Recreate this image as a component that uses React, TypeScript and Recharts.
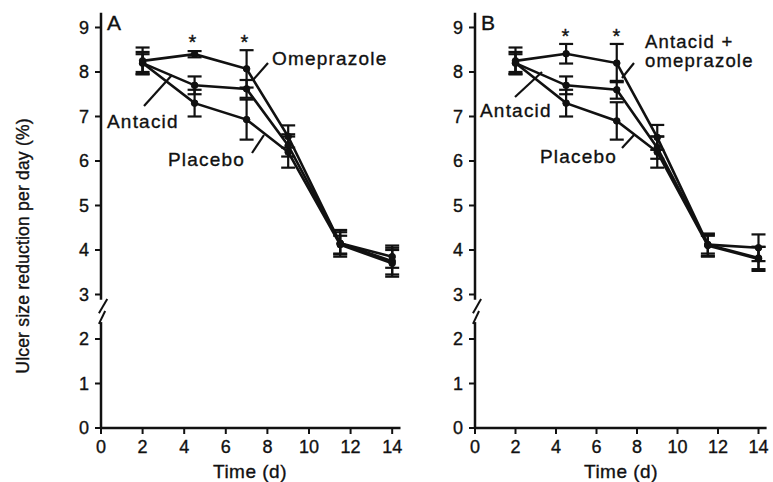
import React from "react";
import { LineChart, Line, XAxis, YAxis, ErrorBar, ReferenceLine } from "recharts";

// time points (days)
const days = [2, 4.5, 7, 9, 11.5, 14];
const xTicks = [0, 2, 4, 6, 8, 10, 12, 14];
const yTicks = [0, 1, 2, 3, 4, 5, 6, 7, 8, 9];

// panel A
const omeprazoleA = [8.25, 8.4, 8.07, 6.55, 4.15, 3.85];
const omeprazoleAErr = [0.3, 0.07, 0.42, 0.25, 0.3, 0.25];
const antacidA = [8.2, 7.7, 7.62, 6.35, 4.15, 3.75];
const antacidAErr = [0.25, 0.2, 0.2, 0.25, 0.25, 0.3];
const placeboA = [8.2, 7.3, 6.93, 6.2, 4.12, 3.7];
const placeboAErr = [0.2, 0.3, 0.45, 0.35, 0.2, 0.3];

// panel B
const comboB = [8.25, 8.41, 8.2, 6.53, 4.12, 4.05];
const comboBErr = [0.3, 0.22, 0.43, 0.28, 0.25, 0.3];
const antacidB = [8.2, 7.7, 7.6, 6.3, 4.12, 3.82];
const antacidBErr = [0.25, 0.2, 0.2, 0.25, 0.2, 0.25];
const placeboB = [8.2, 7.3, 6.9, 6.2, 4.1, 3.8];
const placeboBErr = [0.2, 0.3, 0.42, 0.35, 0.25, 0.27];

const FONT = "'Liberation Sans', Arial, sans-serif";
const INK = "#111";

function rows(a: number[], aErr: number[], b: number[], bErr: number[], c: number[], cErr: number[]) {
  return days.map((d, i) => ({
    day: d,
    s1: a[i],
    s1Err: aErr[i],
    s2: b[i],
    s2Err: bErr[i],
    s3: c[i],
    s3Err: cErr[i],
  }));
}

const dataA = rows(omeprazoleA, omeprazoleAErr, antacidA, antacidAErr, placeboA, placeboAErr);
const dataB = rows(comboB, comboBErr, antacidB, antacidBErr, placeboB, placeboBErr);

interface PanelProps {
  data: ReturnType<typeof rows>;
  width: number;
  yAxisWidth: number;
  right: number;
}

function Panel({ data, width, yAxisWidth, right }: PanelProps) {
  const tick = { fontSize: 18, fill: INK, fontFamily: FONT, stroke: INK, strokeWidth: 0.35 };
  const seg = { stroke: INK, strokeWidth: 2.5, ifOverflow: "visible" as const };
  return (
    <LineChart width={width} height={482} data={data} margin={{ top: 12.8, right, bottom: 0, left: 0 }}>
      <XAxis
        dataKey="day"
        type="number"
        domain={[0, 14.4]}
        ticks={xTicks}
        height={54}
        tick={tick}
        tickSize={6}
        tickMargin={6}
        axisLine={{ stroke: INK, strokeWidth: 2.5 }}
        tickLine={{ stroke: INK, strokeWidth: 2 }}
      />
      <YAxis
        type="number"
        domain={[0, 9.33]}
        ticks={yTicks}
        width={yAxisWidth}
        tick={tick}
        tickSize={6}
        tickMargin={6}
        axisLine={false}
        tickLine={{ stroke: INK, strokeWidth: 2 }}
      />
      {/* y axis drawn in two pieces with a break between 2 and 3 */}
      <ReferenceLine segment={[{ x: 0, y: 2.88 }, { x: 0, y: 9.33 }]} {...seg} />
      <ReferenceLine segment={[{ x: 0, y: 0 }, { x: 0, y: 2.38 }]} {...seg} />
      <ReferenceLine segment={[{ x: -0.1, y: 2.58 }, { x: 0.3, y: 2.9 }]} {...seg} strokeWidth={2} />
      <ReferenceLine segment={[{ x: -0.1, y: 2.34 }, { x: 0.2, y: 2.63 }]} {...seg} strokeWidth={2} />
      {["s1", "s2", "s3"].map((k) => (
        <Line
          key={k}
          dataKey={k}
          type="linear"
          stroke={INK}
          strokeWidth={2.6}
          dot={{ r: 3.3, fill: INK, stroke: INK, strokeWidth: 1 }}
          isAnimationActive={false}
        >
          <ErrorBar dataKey={`${k}Err`} width={7} stroke={INK} strokeWidth={2.2} isAnimationActive={false} />
        </Line>
      ))}
    </LineChart>
  );
}

const txt = { fontFamily: FONT, fill: INK, fontSize: 19, letterSpacing: 1.2, stroke: INK, strokeWidth: 0.35 };

export default function App() {
  return (
    <div style={{ position: "absolute", left: 0, top: 0, width: 773, height: 482, background: "#fff" }}>
      <div style={{ position: "absolute", left: 0, top: 0 }}>
        <Panel data={dataA} width={420} yAxisWidth={101} right={19.5} />
      </div>
      <div style={{ position: "absolute", left: 380, top: 0 }}>
        <Panel data={dataB} width={393} yAxisWidth={95} right={6.4} />
      </div>
      <svg width={773} height={482} style={{ position: "absolute", left: 0, top: 0, pointerEvents: "none" }}>
        <text x={24} y={246} transform="rotate(-90 24 246)" textAnchor="middle" dominantBaseline="middle" {...txt} fontSize={17.5} letterSpacing={0.2}>
          Ulcer size reduction per day (%)
        </text>
        <text x={250} y={478} textAnchor="middle" {...txt} letterSpacing={0.5}>Time (d)</text>
        <text x={621} y={478} textAnchor="middle" {...txt} letterSpacing={0.5}>Time (d)</text>

        {/* panel A */}
        <text x={107} y={30} {...txt} fontSize={21} letterSpacing={0}>A</text>
        <text x={193} y={49} textAnchor="middle" {...txt} fontSize={20}>*</text>
        <text x={245} y={49} textAnchor="middle" {...txt} fontSize={20}>*</text>
        <text x={272} y={65} {...txt}>Omeprazole</text>
        <text x={107} y={128} {...txt}>Antacid</text>
        <text x={168} y={166} {...txt}>Placebo</text>
        <g stroke={INK} strokeWidth={2.2}>
          <line x1={253} y1={80} x2={268} y2={63} />
          <line x1={144} y1={106} x2={172} y2={75} />
          <line x1={252} y1={153} x2={264} y2={135} />
        </g>

        {/* panel B */}
        <text x={481} y={30} {...txt} fontSize={21} letterSpacing={0}>B</text>
        <text x={566} y={43} textAnchor="middle" {...txt} fontSize={20}>*</text>
        <text x={617} y={43} textAnchor="middle" {...txt} fontSize={20}>*</text>
        <text x={645} y={48} {...txt} fontSize={18.5}>Antacid +</text>
        <text x={645} y={67} {...txt} fontSize={18.5}>omeprazole</text>
        <text x={480} y={117} {...txt}>Antacid</text>
        <text x={540} y={163} {...txt}>Placebo</text>
        <g stroke={INK} strokeWidth={2.2}>
          <line x1={622} y1={78} x2={634} y2={63} />
          <line x1={515} y1={97} x2={542} y2={72} />
          <line x1={622} y1={148} x2={634} y2={135} />
        </g>
      </svg>
    </div>
  );
}
